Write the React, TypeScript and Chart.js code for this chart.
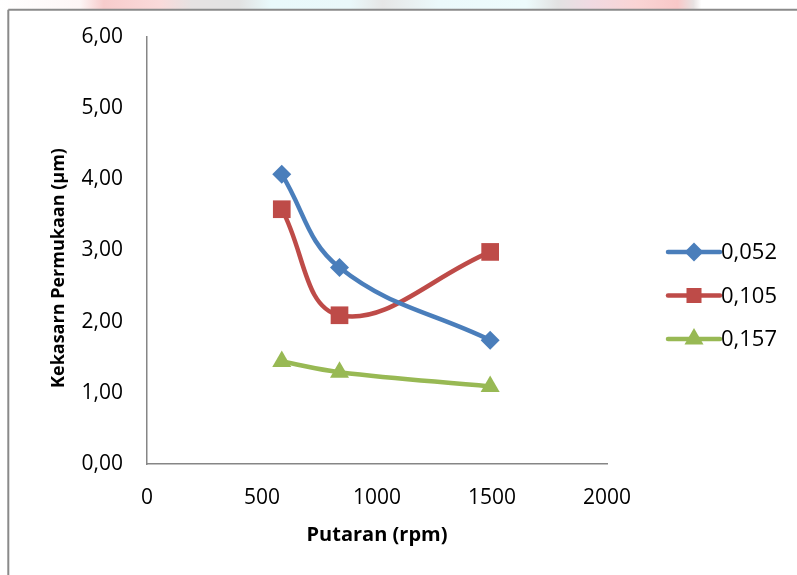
import React, { useEffect, useRef } from 'react';
import { Chart, registerables } from 'chart.js';

Chart.register(...registerables);

// ---- data ----
const rpm = [586, 837, 1492];
const series052 = [4.07, 2.76, 1.74];
const series105 = [3.58, 2.09, 2.98];
const series157 = [1.44, 1.29, 1.09];
const seriesLabels = ['0,052', '0,105', '0,157'];
const seriesColors = ['#4A7EBB', '#BE4B48', '#98B954'];
const seriesPointStyles = ['rectRot', 'rect', 'triangle'];
const seriesPointRadii = [9.5, 12.5, 11];
const xTitle = 'Putaran (rpm)';
const yTitle = 'Kekasarn Permukaan (μm)';

const FONT = '"Open Sans", "Liberation Sans", sans-serif';

function drawMarker(ctx: CanvasRenderingContext2D, style: string, x: number, y: number, r: number, color: string) {
  ctx.save();
  ctx.fillStyle = color;
  ctx.beginPath();
  if (style === 'rectRot') {
    ctx.moveTo(x, y - r);
    ctx.lineTo(x + r, y);
    ctx.lineTo(x, y + r);
    ctx.lineTo(x - r, y);
    ctx.closePath();
  } else if (style === 'rect') {
    const s = r * Math.SQRT1_2;
    ctx.rect(x - s, y - s, 2 * s, 2 * s);
  } else {
    const a = (2 * Math.PI) / 3;
    ctx.moveTo(x, y - r);
    ctx.lineTo(x + Math.sin(a) * r, y - Math.cos(a) * r);
    ctx.lineTo(x + Math.sin(2 * a) * r, y - Math.cos(2 * a) * r);
    ctx.closePath();
  }
  ctx.fill();
  ctx.restore();
}

const backgroundPlugin = {
  id: 'bgFrame',
  beforeDraw(chart: any) {
    const { ctx, width, height } = chart;
    ctx.save();
    ctx.fillStyle = '#ffffff';
    ctx.fillRect(0, 0, width, height);
    // faint watermark strip at top
    const g = ctx.createLinearGradient(0, 0, width, 0);
    g.addColorStop(0.0, '#ffffff');
    g.addColorStop(0.1, '#fdf6f6');
    g.addColorStop(0.13, '#f7cccc');
    g.addColorStop(0.2, '#fadada');
    g.addColorStop(0.24, '#e6e2e2');
    g.addColorStop(0.3, '#e2e2e2');
    g.addColorStop(0.34, '#e9f9fb');
    g.addColorStop(0.44, '#eaf8fa');
    g.addColorStop(0.48, '#e6e6e6');
    g.addColorStop(0.55, '#ebf9fb');
    g.addColorStop(0.66, '#edfbfc');
    g.addColorStop(0.7, '#e2e2e2');
    g.addColorStop(0.74, '#f0dae2');
    g.addColorStop(0.8, '#fad4d4');
    g.addColorStop(0.85, '#f8c8c8');
    g.addColorStop(0.87, '#e8e2e2');
    g.addColorStop(0.88, '#ffffff');
    g.addColorStop(1.0, '#ffffff');
    ctx.fillStyle = g;
    ctx.fillRect(0, 0, width, 9);
    // frame
    ctx.strokeStyle = '#8a8a8a';
    ctx.lineWidth = 2;
    ctx.beginPath();
    ctx.moveTo(8.3, 9.7);
    ctx.lineTo(width, 9.7);
    ctx.moveTo(8.3, 9.7);
    ctx.lineTo(8.3, height);
    ctx.stroke();
    ctx.restore();
  },
};

const legendAndTitlePlugin = {
  id: 'legendTitle',
  afterDraw(chart: any) {
    const { ctx } = chart;
    ctx.save();
    // y title
    ctx.translate(59, 268);
    ctx.rotate(-Math.PI / 2);
    ctx.fillStyle = '#000000';
    ctx.font = `bold 18px ${FONT}`;
    ctx.textAlign = 'center';
    ctx.textBaseline = 'middle';
    ctx.fillText(yTitle, 0, 0);
    ctx.restore();

    // legend
    const x0 = 668;
    const x1 = 720;
    const top = 252;
    const gap = 43.5;
    chart.data.datasets.forEach((ds: any, i: number) => {
      const y = top + i * gap;
      ctx.save();
      ctx.strokeStyle = ds.borderColor;
      ctx.lineWidth = 4.5;
      ctx.lineCap = 'round';
      ctx.beginPath();
      ctx.moveTo(x0, y);
      ctx.lineTo(x1, y);
      ctx.stroke();
      ctx.restore();
      drawMarker(ctx, ds.pointStyle, (x0 + x1) / 2, y, ds.pointRadius * (ds.pointStyle === 'rect' ? 0.85 : 1), ds.borderColor);
      ctx.save();
      ctx.fillStyle = '#000000';
      ctx.font = `22px ${FONT}`;
      ctx.textAlign = 'left';
      ctx.textBaseline = 'middle';
      ctx.fillText(ds.label, x1 + 1, y + 1);
      ctx.restore();
    });
  },
};

export default function App() {
  const ref = useRef<HTMLCanvasElement | null>(null);

  useEffect(() => {
    if (!ref.current) return;
    const seriesData = [series052, series105, series157];
    const chart = new Chart(ref.current, {
      type: 'line',
      data: {
        datasets: seriesData.map((vals, i) => ({
          label: seriesLabels[i],
          data: vals.map((v, j) => ({ x: rpm[j], y: v })),
          borderColor: seriesColors[i],
          backgroundColor: seriesColors[i],
          pointBackgroundColor: seriesColors[i],
          pointBorderColor: seriesColors[i],
          pointBorderWidth: 0,
          pointStyle: seriesPointStyles[i] as any,
          pointRadius: seriesPointRadii[i],
          pointHoverRadius: seriesPointRadii[i],
          borderWidth: 4.5,
          tension: 0.4,
          fill: false,
        })),
      },
      options: {
        animation: false,
        responsive: false,
        maintainAspectRatio: false,
        devicePixelRatio: 1,
        events: [],
        layout: { padding: { left: 0, top: 37, right: 190, bottom: 0 } },
        plugins: {
          legend: { display: false },
          tooltip: { enabled: false },
        },
        scales: {
          x: {
            type: 'linear',
            min: 0,
            max: 2000,
            afterFit: (s: any) => {
              s.height = 111;
            },
            grid: { display: false, drawTicks: false },
            border: { display: true, color: '#868686', width: 1.5 },
            ticks: {
              stepSize: 500,
              padding: 21,
              color: '#000000',
              font: { family: FONT, size: 21 },
              maxRotation: 0,
              callback: (v: any) => String(v),
            },
            title: {
              display: true,
              text: xTitle,
              color: '#000000',
              font: { family: FONT, size: 20, weight: 'bold' },
              padding: { top: 0, bottom: 28 },
            },
          },
          y: {
            type: 'linear',
            min: 0,
            max: 6,
            afterFit: (s: any) => {
              s.width = 147;
            },
            grid: { display: false, drawTicks: false },
            border: { display: true, color: '#868686', width: 1.5 },
            ticks: {
              stepSize: 1,
              padding: 24,
              color: '#000000',
              font: { family: FONT, size: 21 },
              callback: (v: any) => Number(v).toFixed(2).replace('.', ','),
            },
          },
        },
      },
      plugins: [backgroundPlugin, legendAndTitlePlugin],
    });
    return () => chart.destroy();
  }, []);

  return (
    <div style={{ position: 'fixed', left: 0, top: 0, width: 797, height: 575, background: '#fff' }}>
      <canvas ref={ref} width={797} height={575} style={{ display: 'block', width: 797, height: 575 }} />
    </div>
  );
}
